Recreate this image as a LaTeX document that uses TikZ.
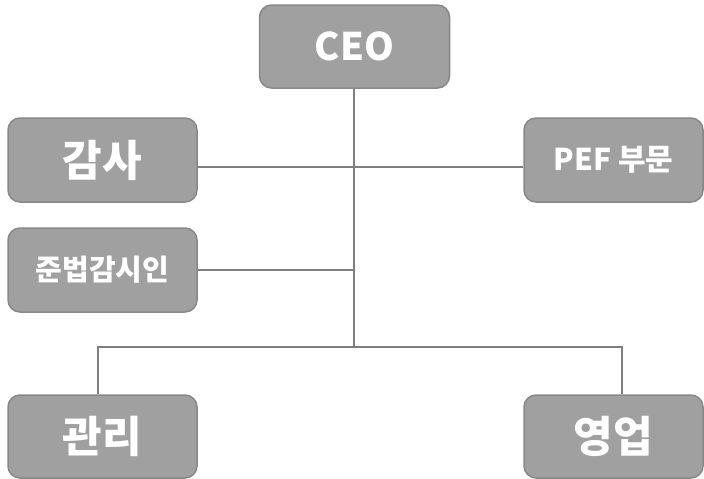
\documentclass[tikz,border=0pt]{standalone}
\usepackage{fontspec}
\setmainfont{Noto Sans CJK KR}
\definecolor{boxfill}{RGB}{160,160,160}
\definecolor{boxedge}{RGB}{136,136,136}
\definecolor{wire}{RGB}{127,127,127}
\begin{document}
\begin{tikzpicture}[
  x=1pt, y=-1pt,
  unit/.style={rectangle, rounded corners=12pt, fill=boxfill, draw=boxedge,
    line width=1.5pt, text=white, font=\bfseries, inner sep=0pt},
  wide/.style={unit, minimum width=189pt, minimum height=84pt},
  side/.style={unit, minimum width=179pt, minimum height=84pt},
  link/.style={draw=wire, line width=2.4pt}
]
\useasboundingbox (0,0) rectangle (704,479);
\node[unit, minimum width=190pt, minimum height=83pt, font=\bfseries\fontsize{38}{42}\selectfont] (ceo) at (354.5,46.5) {CEO};
\node[wide, font=\bfseries\fontsize{43}{46}\selectfont] (audit) at (102.5,160) {감사};
\node[wide, font=\bfseries\fontsize{29}{32}\selectfont] (comp) at (102.5,270) {준법감시인};
\node[side, font=\bfseries\fontsize{30}{33}\selectfont] (pef) at (613.5,160) {PEF 부문};
\node[wide, minimum height=83pt, font=\bfseries\fontsize{43}{46}\selectfont] (mgmt) at (102.5,436.5) {관리};
\node[side, minimum height=83pt, font=\bfseries\fontsize{43}{46}\selectfont] (sales) at (613.5,436.5) {영업};
% joints on the trunk
\coordinate (jn) at (354,347);
\coordinate (jl) at (98,347);
\coordinate (jr) at (622,347);
\draw[link] (ceo.south -| jn) -- (jn);
\draw[link] ([yshift=-7pt]audit.east) -- ([yshift=-7pt]pef.west);
\draw[link] (comp.east) -- (comp.east -| jn);
\draw[link] (jl |- mgmt.north) -- (jl) -- (jr) -- (jr |- sales.north);
\end{tikzpicture}
\end{document}
